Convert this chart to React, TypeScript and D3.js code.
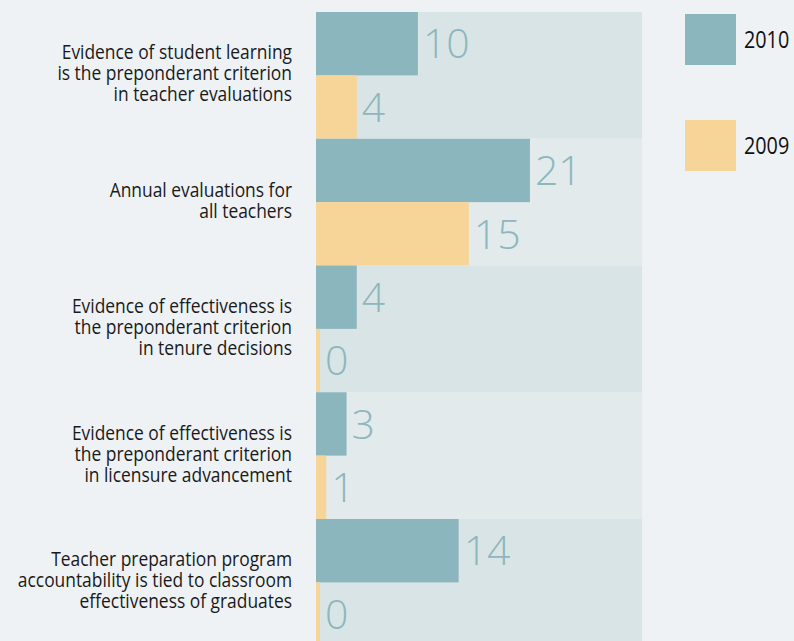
import React from "react";
import * as d3 from "d3";

const categories: string[][] = [
  ["Evidence of student learning", "is the preponderant criterion", "in teacher evaluations"],
  ["Annual evaluations for", "all teachers"],
  ["Evidence of effectiveness is", "the preponderant criterion", "in tenure decisions"],
  ["Evidence of effectiveness is", "the preponderant criterion", "in licensure advancement"],
  ["Teacher preparation program", "accountability is tied to classroom", "effectiveness of graduates"],
];
const values2010 = [10, 21, 4, 3, 14];
const values2009 = [4, 15, 0, 1, 0];
const seriesNames = ["2010", "2009"];

const W = 794;
const H = 641;
const C2010 = "#8bb6bd";
const C2009 = "#f7d497";
const LABEL = "#8db7bd";
const FONT = "'Open Sans', 'Noto Sans', sans-serif";

export default function App() {
  const x = d3.scaleLinear().domain([0, 32]).range([316, 642]);
  const y = d3
    .scaleBand<number>()
    .domain(d3.range(categories.length))
    .range([12, 12 + 5 * 126.75]);
  const sub = d3.scaleBand<string>().domain(seriesNames).range([0, y.bandwidth()]);
  const minW = 4;

  return (
    <div style={{ position: "fixed", left: 0, top: 0 }}>
      <svg width={W} height={H} style={{ display: "block" }}>
        <rect x={0} y={0} width={W} height={H} fill="#eef2f5" />
        {categories.map((lines, i) => {
          const y0 = y(i)!;
          const vals = [values2010[i], values2009[i]];
          const cy = y0 + y.bandwidth() / 2 - 2;
          const lh = 21;
          return (
            <g key={i}>
              <rect
                x={x(0)}
                y={y0}
                width={x(32) - x(0)}
                height={y.bandwidth()}
                fill={i % 2 === 0 ? "#d9e4e6" : "#e2eaec"}
              />
              {seriesNames.map((s, j) => {
                const v = vals[j];
                const by = y0 + sub(s)!;
                const w = Math.max(minW, x(v) - x(0));
                return (
                  <g key={s}>
                    <rect x={x(0)} y={by} width={w} height={sub.bandwidth()} fill={j === 0 ? C2010 : C2009} />
                    <text
                      x={x(0) + w + 5}
                      y={by + sub.bandwidth() / 2}
                      dy="0.36em"
                      fill={LABEL}
                      fontFamily="'Open Sans', sans-serif"
                      fontWeight={300}
                      fontSize={41}
                    >
                      {v}
                    </text>
                  </g>
                );
              })}
              <g transform="translate(292,0) scale(0.87,1)">
                <text x={0} textAnchor="end" fontFamily={FONT} fontSize={20} fill="#1a1a1a">
                  {lines.map((l, k) => (
                    <tspan key={k} x={0} y={cy + (k - (lines.length - 1) / 2) * lh} dy="0.35em">
                      {l}
                    </tspan>
                  ))}
                </text>
              </g>
            </g>
          );
        })}
        {seriesNames.map((s, j) => (
          <g key={s}>
            <rect x={685} y={14 + j * 106} width={51} height={51} fill={j === 0 ? C2010 : C2009} />
            <g transform={`translate(744,${14 + j * 106 + 25.5}) scale(0.86,1)`}>
              <text x={0} y={0} dy="0.36em" fontFamily={FONT} fontSize={23} fill="#111">
                {s}
              </text>
            </g>
          </g>
        ))}
      </svg>
    </div>
  );
}
